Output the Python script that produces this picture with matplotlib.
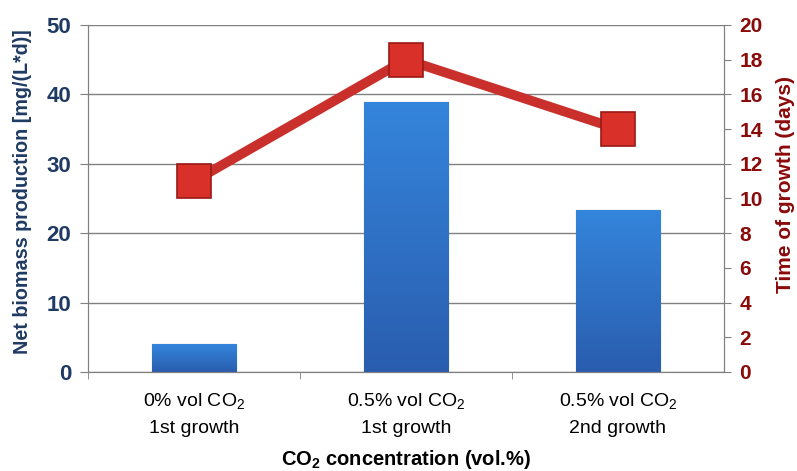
import numpy as np
import matplotlib.pyplot as plt
from matplotlib.colors import LinearSegmentedColormap

plt.rcParams['font.family'] = ['Liberation Sans', 'DejaVu Sans']
plt.rcParams['mathtext.fontset'] = 'custom'
plt.rcParams['mathtext.rm'] = 'Liberation Sans'
plt.rcParams['mathtext.bf'] = 'Liberation Sans:bold'
plt.rcParams['mathtext.default'] = 'regular'

# data
categories = ['0% vol CO$_2$\n1st growth',
              '0.5% vol CO$_2$\n1st growth',
              '0.5% vol CO$_2$\n2nd growth']
biomass = [4.0, 38.9, 23.4]       # mg/(L*d), left axis
growth_days = [11, 18, 14]        # days, right axis

navy = '#1F3B63'
dred = '#8B0A0A'
grey = '#808080'

fig = plt.figure(figsize=(7.97, 4.71), dpi=100)
ax = fig.add_axes([0.1104, 0.2102, 0.7980, 0.7368])
x = np.arange(len(categories))

bars = ax.bar(x, biomass, width=0.4, color='#2E70C8', edgecolor='#1E4F8F',
              linewidth=0.8, zorder=2)
# soft gradient inside each bar, lighter on top
cmap = LinearSegmentedColormap.from_list('b', ['#2A5DAE', '#3485DC'])
grad = np.linspace(0, 1, 256).reshape(-1, 1)
for b in bars:
    x0, y0 = b.get_x(), b.get_y()
    im = ax.imshow(grad, extent=(x0, x0 + b.get_width(), y0, y0 + b.get_height()),
                   origin='lower', aspect='auto', cmap=cmap, zorder=2.1)
    im.set_clip_path(b)

ax.set_xlim(-0.5, 2.5)
ax.set_ylim(0, 50)
ax.set_yticks([0, 10, 20, 30, 40, 50])
ax.grid(axis='y', color=grey, lw=1.0, zorder=0)
ax.set_axisbelow(True)
ax.set_xticks(x)
ax.set_xticklabels(categories, fontsize=14, linespacing=1.65)
ax.set_xticks([-0.5, 0.5, 1.5], minor=True)
ax.tick_params(axis='x', which='major', length=0, pad=14)
ax.tick_params(axis='x', which='minor', length=5, color=grey, direction='out')
ax.tick_params(axis='y', length=6, color=grey, labelsize=16, labelcolor=navy, pad=6)
for lab in ax.get_yticklabels():
    lab.set_fontweight('bold')
for s in ['left', 'bottom', 'right']:
    ax.spines[s].set_color(grey)
ax.spines['top'].set_visible(False)
ax.set_ylabel('Net biomass production [mg/(L*d)]', fontsize=14.2,
              fontweight='bold', color=navy)
ax.yaxis.set_label_coords(-0.088, 0.519)
ax.set_xlabel(r'$\mathbf{CO_2}$ concentration (vol.%)', fontsize=14.5,
              fontweight='bold')
ax.xaxis.set_label_coords(0.5, -0.219)

ax2 = ax.twinx()
ax2.set_ylim(0, 20)
ax2.set_yticks(np.arange(0, 21, 2))
ax2.plot(x, growth_days, color='#C9302C', lw=7, marker='s', markersize=24,
         markerfacecolor='#D9302A', markeredgecolor='#9A1A16',
         markeredgewidth=1.2, solid_joinstyle='miter', zorder=3)
ax2.tick_params(axis='y', length=5, color=grey, labelsize=15, labelcolor=dred, pad=6)
for lab in ax2.get_yticklabels():
    lab.set_fontweight('bold')
for s in ['left', 'bottom', 'right']:
    ax2.spines[s].set_color(grey)
ax2.spines['top'].set_visible(False)
ax2.set_ylabel('Time of growth (days)', fontsize=15, fontweight='bold',
               color=dred)
ax2.yaxis.set_label_coords(1.082, 0.54)

fig.savefig('out.png', dpi=100)
